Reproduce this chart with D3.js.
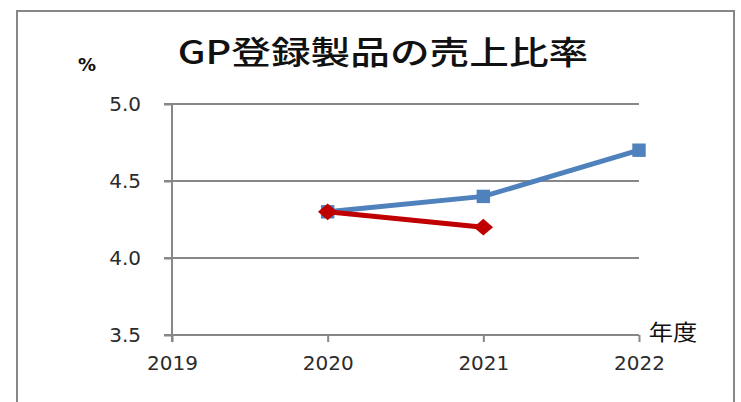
<!DOCTYPE html>
<html>
<head>
<meta charset="utf-8">
<script src="https://cdn.jsdelivr.net/npm/d3@7"></script>
<style>
  body { margin: 0; background: #fff; }
  svg { display: block; }
</style>
</head>
<body>
<script>
// chart data
var years = ["2019", "2020", "2021", "2022"];
var blueYears = ["2020", "2021", "2022"];
var blueValues = [4.3, 4.4, 4.7];
var redYears = ["2020", "2021"];
var redValues = [4.3, 4.2];
var yTicks = [3.5, 4.0, 4.5, 5.0];

var W = 741, H = 402;

var svg = d3.select("body").append("svg")
    .attr("width", W)
    .attr("height", H);

// outer chart border (bottom edge is cut off in the picture)
svg.append("rect")
    .attr("x", 17).attr("y", 11)
    .attr("width", 717).attr("height", 430)
    .attr("fill", "#fff")
    .attr("stroke", "#878787")
    .attr("stroke-width", 2);

var xScale = d3.scalePoint()
    .domain(years)
    .range([172, 639]);

var yScale = d3.scaleLinear()
    .domain([3.5, 5.0])
    .range([335, 104]);

// gridlines
svg.append("g").selectAll("line")
    .data(yTicks)
    .enter().append("line")
    .attr("x1", 164)
    .attr("x2", 639)
    .attr("y1", function (d) { return yScale(d); })
    .attr("y2", function (d) { return yScale(d); })
    .attr("stroke", "#878787")
    .attr("stroke-width", 2);

// y axis
var yAxis = d3.axisLeft(yScale)
    .tickValues(yTicks)
    .tickSize(8)
    .tickPadding(23)
    .tickFormat(d3.format(".1f"));

var yAxisGroup = svg.append("g")
    .attr("transform", "translate(172,0)")
    .call(yAxis);

// x axis
var xAxis = d3.axisBottom(xScale)
    .tickSize(7)
    .tickPadding(14);

var xAxisGroup = svg.append("g")
    .attr("transform", "translate(0,335)")
    .call(xAxis);

[yAxisGroup, xAxisGroup].forEach(function (g) {
    g.select(".domain").remove();
    g.selectAll("line").attr("stroke", "#878787").attr("stroke-width", 2);
    g.selectAll("text")
        .attr("fill", "#2b2b2b")
        .attr("font-family", "DejaVu Sans, sans-serif")
        .attr("font-size", "20px");
});

// y axis line
svg.append("line")
    .attr("x1", 172).attr("x2", 172)
    .attr("y1", yScale(5.0) - 1).attr("y2", 342)
    .attr("stroke", "#878787")
    .attr("stroke-width", 2);

// series lines
var line = d3.line()
    .x(function (d) { return xScale(d[0]); })
    .y(function (d) { return yScale(d[1]); });

var blueData = d3.zip(blueYears, blueValues);
var redData = d3.zip(redYears, redValues);

svg.append("path")
    .datum(blueData)
    .attr("d", line)
    .attr("fill", "none")
    .attr("stroke", "#4F81BD")
    .attr("stroke-width", 5);

svg.selectAll(".blueMark")
    .data(blueData)
    .enter().append("path")
    .attr("class", "blueMark")
    .attr("d", d3.symbol(d3.symbolSquare, 180))
    .attr("transform", function (d) { return "translate(" + xScale(d[0]) + "," + yScale(d[1]) + ")"; })
    .attr("fill", "#4F81BD");

svg.append("path")
    .datum(redData)
    .attr("d", line)
    .attr("fill", "none")
    .attr("stroke", "#C00000")
    .attr("stroke-width", 5);

svg.selectAll(".redMark")
    .data(redData)
    .enter().append("path")
    .attr("class", "redMark")
    .attr("d", d3.symbol(d3.symbolSquare, 150))
    .attr("transform", function (d) {
        return "translate(" + xScale(d[0]) + "," + yScale(d[1]) + ") scale(1.12,0.97) rotate(45)";
    })
    .attr("fill", "#C00000");

// title (stretched wide like the original)
svg.append("text")
    .attr("transform", "translate(383,64) scale(1.24,1)")
    .attr("text-anchor", "middle")
    .attr("font-family", "Noto Sans CJK JP, sans-serif")
    .attr("font-weight", "500")
    .attr("font-size", "32px")
    .attr("fill", "#111")
    .text("GP登録製品の売上比率");

// unit labels
svg.append("text")
    .attr("x", 87).attr("y", 71)
    .attr("text-anchor", "middle")
    .attr("font-family", "DejaVu Sans, sans-serif")
    .attr("font-weight", "bold")
    .attr("font-size", "18px")
    .attr("fill", "#111")
    .text("%");

svg.append("text")
    .attr("transform", "translate(673,340) scale(1.1,1)")
    .attr("text-anchor", "middle")
    .attr("font-family", "Noto Sans CJK JP, sans-serif")
    .attr("font-size", "22px")
    .attr("fill", "#111")
    .text("年度");
</script>
</body>
</html>
